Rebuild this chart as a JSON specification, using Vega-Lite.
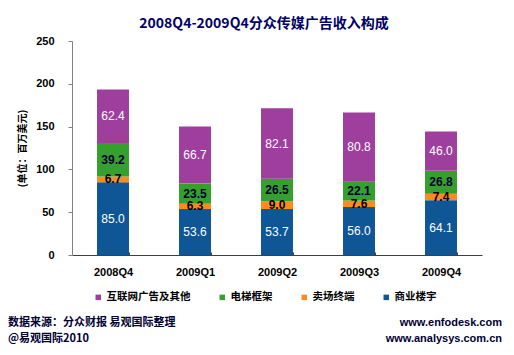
{
  "$schema": "https://vega.github.io/schema/vega-lite/v6.json",
  "padding": {"left": 8, "top": 17, "right": 0, "bottom": 0},
  "background": "white",
  "title": {
    "text": "2008Q4-2009Q4分众传媒广告收入构成",
    "font": "Noto Sans CJK SC",
    "fontSize": 14,
    "fontWeight": "bold",
    "color": "#000066",
    "anchor": "middle",
    "offset": 4,
    "dx": 9
  },
  "spacing": 38,
  "config": {"view": {"stroke": null}},
  "datasets": {
    "rev": [
      {"q": "2008Q4", "s": "商业楼宇", "v": 85.0},
      {"q": "2008Q4", "s": "卖场终端", "v": 6.7},
      {"q": "2008Q4", "s": "电梯框架", "v": 39.2},
      {"q": "2008Q4", "s": "互联网广告及其他", "v": 62.4},
      {"q": "2009Q1", "s": "商业楼宇", "v": 53.6},
      {"q": "2009Q1", "s": "卖场终端", "v": 6.3},
      {"q": "2009Q1", "s": "电梯框架", "v": 23.5},
      {"q": "2009Q1", "s": "互联网广告及其他", "v": 66.7},
      {"q": "2009Q2", "s": "商业楼宇", "v": 53.7},
      {"q": "2009Q2", "s": "卖场终端", "v": 9.0},
      {"q": "2009Q2", "s": "电梯框架", "v": 26.5},
      {"q": "2009Q2", "s": "互联网广告及其他", "v": 82.1},
      {"q": "2009Q3", "s": "商业楼宇", "v": 56.0},
      {"q": "2009Q3", "s": "卖场终端", "v": 7.6},
      {"q": "2009Q3", "s": "电梯框架", "v": 22.1},
      {"q": "2009Q3", "s": "互联网广告及其他", "v": 80.8},
      {"q": "2009Q4", "s": "商业楼宇", "v": 64.1},
      {"q": "2009Q4", "s": "卖场终端", "v": 7.4},
      {"q": "2009Q4", "s": "电梯框架", "v": 26.8},
      {"q": "2009Q4", "s": "互联网广告及其他", "v": 46.0}
    ],
    "foot": [
      {"side": "left", "line": 1, "t": "数据来源：分众财报 易观国际整理"},
      {"side": "left", "line": 2, "t": "@易观国际2010"},
      {"side": "right", "line": 1, "t": "www.enfodesk.com"},
      {"side": "right", "line": 2, "t": "www.analysys.com.cn"}
    ]
  },
  "vconcat": [
    {
      "width": 410,
      "height": 214,
      "data": {"name": "rev"},
      "transform": [
        {"calculate": "indexof(['商业楼宇','卖场终端','电梯框架','互联网广告及其他'], datum.s)", "as": "ord"},
        {"stack": "v", "groupby": ["q"], "sort": [{"field": "ord", "order": "ascending"}], "as": ["y0", "y1"]},
        {"calculate": "(datum.y0 + datum.y1) / 2", "as": "mid"}
      ],
      "encoding": {
        "x": {
          "field": "q",
          "type": "nominal",
          "scale": {"paddingInner": 0.61, "paddingOuter": 0.305},
          "axis": {
            "title": null,
            "labelAngle": 0,
            "labelFont": "Liberation Sans",
            "labelFontSize": 11,
            "labelFontWeight": "bold",
            "labelColor": "#000000",
            "labelPadding": 14,
            "domainColor": "#404040",
            "tickColor": "#404040",
            "tickBand": "extent",
            "tickSize": -3
          }
        }
      },
      "layer": [
        {
          "mark": {"type": "bar"},
          "encoding": {
            "y": {
              "field": "y0",
              "type": "quantitative",
              "scale": {"domain": [0, 250], "nice": false},
              "axis": {
                "title": "(单位：百万美元)",
                "values": [0, 50, 100, 150, 200, 250],
                "grid": false,
                "labelFont": "Liberation Sans",
                "labelFontSize": 11,
                "labelFontWeight": "bold",
                "labelColor": "#000000",
                "labelPadding": 14,
                "tickSize": 4,
                "domainColor": "#808080",
                "tickColor": "#808080",
                "titleFont": "Noto Sans CJK SC",
                "titleFontSize": 10,
                "titleFontWeight": "bold",
                "titleColor": "#000000",
                "titlePadding": 8
              }
            },
            "y2": {"field": "y1"},
            "color": {
              "field": "s",
              "type": "nominal",
              "scale": {
                "domain": ["互联网广告及其他", "电梯框架", "卖场终端", "商业楼宇"],
                "range": ["#9E3F9E", "#36A02E", "#FF8C1A", "#0F5697"]
              },
              "legend": {
                "title": null,
                "orient": "none",
                "direction": "horizontal",
                "legendX": 21,
                "legendY": 251,
                "symbolType": "square",
                "symbolSize": 30,
                "symbolStrokeWidth": 0,
                "labelFont": "Noto Sans CJK SC",
                "labelFontSize": 10.5,
                "labelFontWeight": "bold",
                "labelColor": "#000000",
                "labelOffset": 3,
                "columnPadding": 26
              }
            }
          }
        },
        {
          "transform": [{"filter": "datum.s == '商业楼宇' || datum.s == '互联网广告及其他'"}],
          "mark": {"type": "text", "font": "Liberation Sans", "fontSize": 12, "color": "#FFFFFF", "baseline": "middle"},
          "encoding": {
            "y": {"field": "mid", "type": "quantitative"},
            "text": {"field": "v", "type": "quantitative", "format": ".1f"}
          }
        },
        {
          "transform": [{"filter": "datum.s == '卖场终端' || datum.s == '电梯框架'"}],
          "mark": {"type": "text", "font": "Liberation Sans", "fontSize": 12, "fontWeight": "bold", "baseline": "middle"},
          "encoding": {
            "y": {"field": "mid", "type": "quantitative"},
            "text": {"field": "v", "type": "quantitative", "format": ".1f"},
            "color": {"condition": {"test": "datum.s == '电梯框架'", "value": "#000033"}, "value": "#000000"}
          }
        }
      ]
    },
    {
      "width": 430,
      "height": 32,
      "data": {"name": "foot"},
      "encoding": {
        "y": {"field": "line", "type": "ordinal", "axis": null}
      },
      "layer": [
        {
          "transform": [{"filter": "datum.side == 'left'"}],
          "mark": {"type": "text", "align": "left", "baseline": "middle", "font": "Noto Sans CJK SC", "fontSize": 11, "fontWeight": "bold", "color": "#000033", "dx": -64},
          "encoding": {
            "x": {"datum": 0, "type": "quantitative", "scale": {"domain": [0, 1]}, "axis": null},
            "text": {"field": "t"}
          }
        },
        {
          "transform": [{"filter": "datum.side == 'right'"}],
          "mark": {"type": "text", "align": "right", "baseline": "middle", "font": "Liberation Sans", "fontSize": 11, "fontWeight": "bold", "color": "#000033"},
          "encoding": {
            "x": {"datum": 1, "type": "quantitative", "scale": {"domain": [0, 1]}, "axis": null},
            "text": {"field": "t"}
          }
        }
      ]
    }
  ]
}
